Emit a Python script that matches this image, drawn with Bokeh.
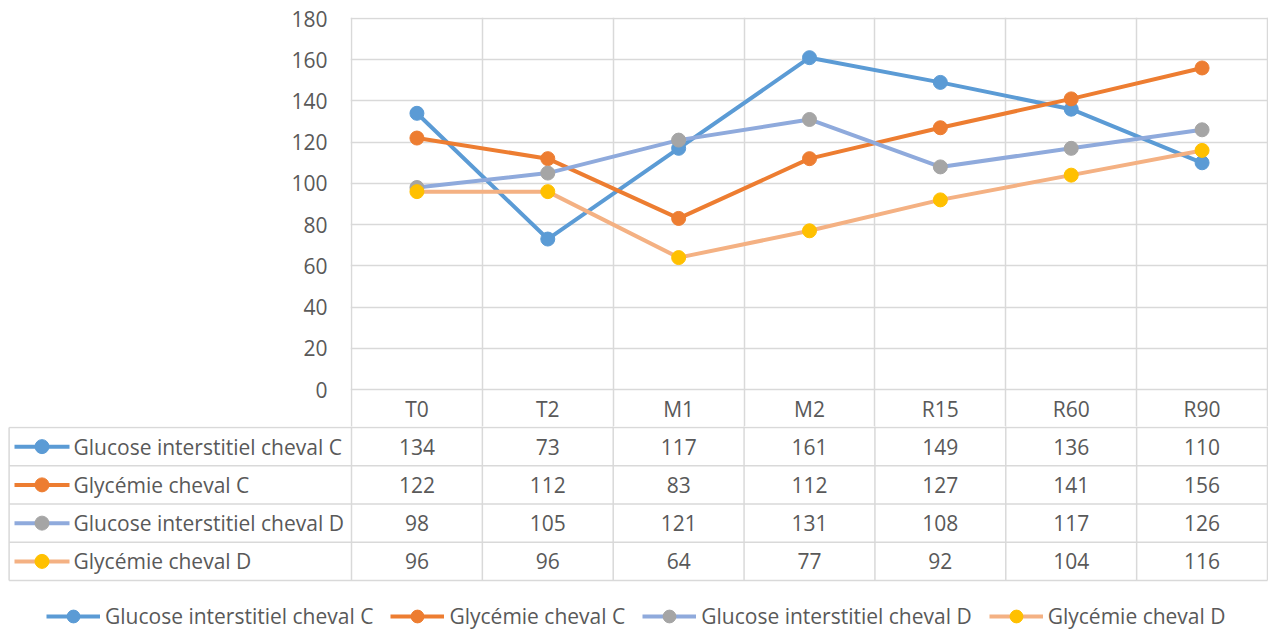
from bokeh.plotting import figure
from bokeh.models import Range1d, FixedTicker, Legend, LegendItem, ColumnDataSource, Grid
from bokeh.embed import file_html
from bokeh.resources import INLINE
from bokeh.core.properties import value

# ---------------- data ----------------
categories = ["T0", "T2", "M1", "M2", "R15", "R60", "R90"]
series_names = ["Glucose interstitiel cheval C", "Glycémie cheval C",
                "Glucose interstitiel cheval D", "Glycémie cheval D"]
glucose_interstitiel_c = [134, 73, 117, 161, 149, 136, 110]
glycemie_c = [122, 112, 83, 112, 127, 141, 156]
glucose_interstitiel_d = [98, 105, 121, 131, 108, 117, 126]
glycemie_d = [96, 96, 64, 77, 92, 104, 116]
y_ticks = [0, 20, 40, 60, 80, 100, 120, 140, 160, 180]

series_values = [glucose_interstitiel_c, glycemie_c, glucose_interstitiel_d, glycemie_d]

# ---------------- style ----------------
line_colors = ["#5B9BD5", "#ED7D31", "#8FAADC", "#F4B183"]
marker_colors = ["#5B9BD5", "#ED7D31", "#A5A5A5", "#FFC000"]
FONT = "Open Sans"
TXT = "#595959"
GRID = "#D9D9D9"
FS = "21px"
LW = 4
MS = 14

W = 1268
PX_PER_CAT = 916 / 7          # pixels per category
X0_PX = 351                   # page x of category boundary -0.5
PX_PER_Y = 371 / 180          # pixels per y unit
ROW_PX = 38.25                # table row height


def xu(px):
    """page pixel -> category units"""
    return -0.5 + (px - X0_PX) / PX_PER_CAT


x_idx = list(range(len(categories)))

# ---------------- chart ----------------
y_end = 180 + 1 / PX_PER_Y
y_start = y_end - 409 / PX_PER_Y
p1 = figure(width=W, height=426, x_range=Range1d(xu(350), xu(1268)),
            y_range=Range1d(y_start, y_end), output_backend="svg",
            toolbar_location=None, x_axis_location=None,
            min_border_left=350, min_border_right=0, min_border_top=17, min_border_bottom=0)
p1.outline_line_color = None
p1.xgrid.grid_line_color = None
p1.add_layout(Grid(dimension=0, ticker=FixedTicker(ticks=[i - 0.5 for i in range(len(categories) + 1)]),
                   grid_line_color=GRID, grid_line_width=1.5))
p1.ygrid.grid_line_color = GRID
p1.ygrid.grid_line_width = 1.5
yax = p1.yaxis[0]
yax.ticker = FixedTicker(ticks=y_ticks)
yax.axis_line_color = None
yax.major_tick_line_color = None
yax.minor_tick_line_color = None
yax.major_tick_in = 0
yax.major_tick_out = 0
yax.major_label_standoff = 23
yax.major_label_text_font = FONT
yax.major_label_text_font_size = FS
yax.major_label_text_color = TXT

for vals, lc, mc in zip(series_values, line_colors, marker_colors):
    src = ColumnDataSource(dict(x=x_idx, y=vals))
    p1.line("x", "y", source=src, line_color=lc, line_width=LW)
    p1.scatter("x", "y", source=src, size=MS, fill_color=mc, line_color=mc)

header_y = -(408 - 389) / PX_PER_Y
p1.text(x=x_idx, y=[header_y] * len(categories), text=categories,
        text_font=value(FONT), text_font_size=value(FS), text_color=TXT,
        text_align="center", text_baseline="middle")

# ---------------- data table + legend ----------------
p2 = figure(width=W, height=203, x_range=Range1d(xu(0), xu(1268)),
            y_range=Range1d((629 - 427) / ROW_PX, -1 / ROW_PX), output_backend="svg",
            toolbar_location=None, x_axis_location=None, y_axis_location=None,
            min_border_left=0, min_border_right=0, min_border_top=0, min_border_bottom=0)
p2.outline_line_color = None
p2.xgrid.grid_line_color = None
p2.ygrid.grid_line_color = None

n_rows = len(series_names)
xl = xu(8.6)
seg_x0 = [xl] * (n_rows + 1) + [xl] + [i - 0.5 for i in range(len(categories) + 1)]
seg_x1 = [len(categories) - 0.5] * (n_rows + 1) + [xl] + [i - 0.5 for i in range(len(categories) + 1)]
seg_y0 = list(range(n_rows + 1)) + [0] + [-0.1] * (len(categories) + 1)
seg_y1 = list(range(n_rows + 1)) + [n_rows] + [n_rows] * (len(categories) + 1)
p2.segment(seg_x0, seg_y0, seg_x1, seg_y1, line_color=GRID, line_width=1.5)

items = []
for r, (name, vals, lc, mc) in enumerate(zip(series_names, series_values, line_colors, marker_colors)):
    yc = r + 0.5
    p2.text(x=x_idx, y=[yc] * len(vals), text=[str(v) for v in vals],
            text_font=value(FONT), text_font_size=value(FS), text_color=TXT,
            text_align="center", text_baseline="middle")
    lr = p2.line([xu(14), xu(69)], [yc, yc], line_color=lc, line_width=LW)
    sr = p2.scatter([xu(41.5)], [yc], size=MS, fill_color=mc, line_color=mc)
    p2.text(x=[xu(73)], y=[yc], text=[name],
            text_font=value(FONT), text_font_size=value(FS), text_color=TXT,
            text_align="left", text_baseline="middle")
    items.append(LegendItem(label=name, renderers=[lr, sr]))

legend = Legend(items=items, orientation="horizontal", location=(46, -3),
                margin=0, padding=0, spacing=17, glyph_width=54, glyph_height=32,
                label_standoff=5, label_text_font=FONT, label_text_font_size=FS,
                label_text_color=TXT, border_line_color=None, background_fill_alpha=0)
p2.add_layout(legend)

open("out.html", "w").write(file_html([p1, p2], INLINE))
